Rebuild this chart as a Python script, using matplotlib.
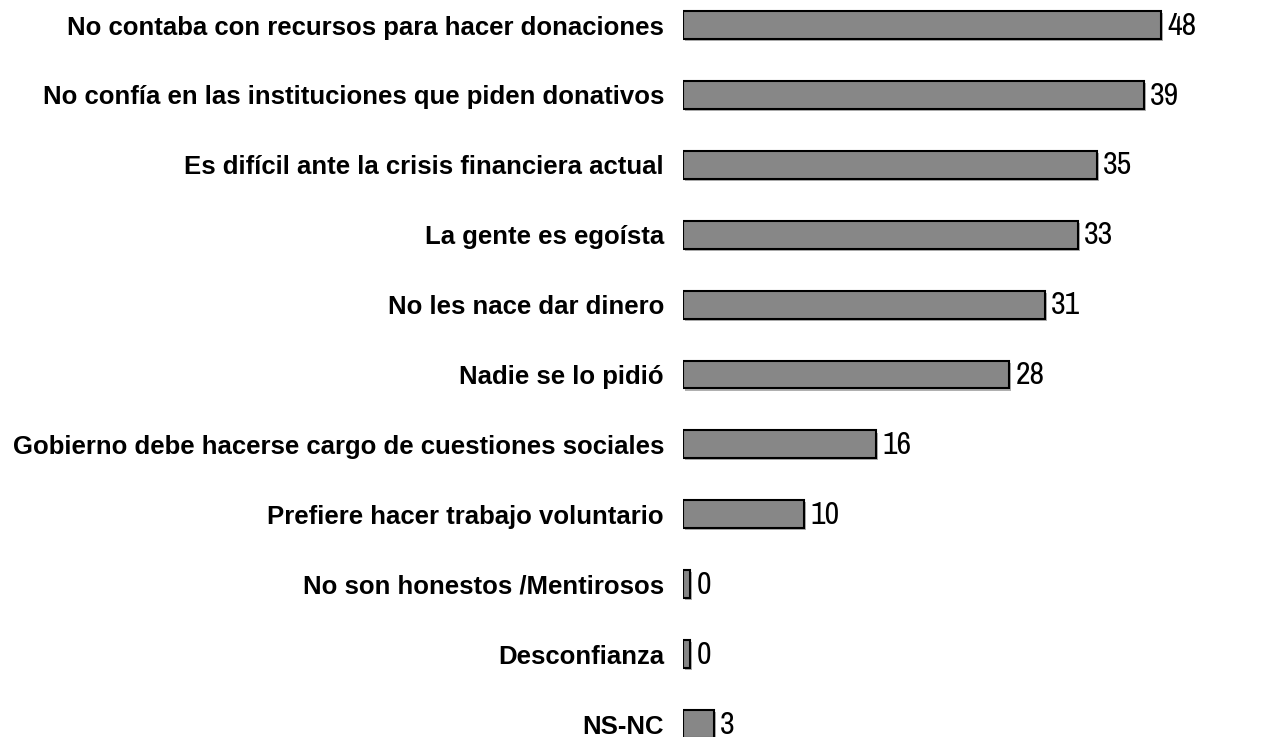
#!/usr/bin/env python3
import matplotlib
matplotlib.use("Agg")
import matplotlib.pyplot as plt
import matplotlib.patheffects as pe
from matplotlib import font_manager

# reasons, top to bottom
reasons = [
    "No contaba con recursos para hacer donaciones",
    "No confía en las instituciones que piden donativos",
    "Es difícil ante la crisis financiera actual",
    "La gente es egoísta",
    "No les nace dar dinero",
    "Nadie se lo pidió",
    "Gobierno debe hacerse cargo de cuestiones sociales",
    "Prefiere hacer trabajo voluntario",
    "No son honestos /Mentirosos",
    "Desconfianza",
    "NS-NC",
]
# printed values
values = [48, 39, 35, 33, 31, 28, 16, 10, 0, 0, 3]
# bar lengths as drawn in the picture (not proportional to the printed value)
bar_len = [40.2, 38.7, 34.8, 33.2, 30.4, 27.4, 16.2, 10.2, 0.6, 0.6, 2.6]

# look for a narrow face for the numbers
cond = [f for f in font_manager.fontManager.ttflist
        if ("Narrow" in f.name or "Condensed" in f.name or "condensed" in str(f.stretch))]
num_font = sorted(cond, key=lambda f: ("Narrow" not in f.name, f.name))[0].name if cond else "DejaVu Sans"

W, H = 1286, 737
fig = plt.figure(figsize=(W / 100, H / 100), dpi=100)
left = 683 / W
ax = fig.add_axes([left, 0, 1 - left, 1])

y = list(range(len(reasons)))
bars = ax.barh(y, bar_len, height=0.40, color="#878787", edgecolor="black",
               linewidth=1.5)
for b in bars:
    b.set_path_effects([pe.SimplePatchShadow(offset=(1.5, -1.5), shadow_rgbFace="#b0b0b0", alpha=1.0),
                        pe.Normal()])

for yi, L, v in zip(y, bar_len, values):
    ax.annotate(str(v), (L, yi), xytext=(4.5, -0.5), textcoords="offset points",
                ha="left", va="center", fontsize=23, family=num_font,
                fontstretch="condensed", fontweight="bold")

ax.set_xlim(0, (W - 683) / 11.9)
ax.set_ylim((H - 25) / 69.9, -25 / 69.9)
ax.set_yticks(y)
ax.set_yticklabels(reasons, fontsize=18.5, fontweight="bold", family="Liberation Sans")
ax.tick_params(axis="y", length=0, pad=13.7)
ax.set_xticks([])
for s in ax.spines.values():
    s.set_visible(False)

fig.savefig("out.png", dpi=100)
